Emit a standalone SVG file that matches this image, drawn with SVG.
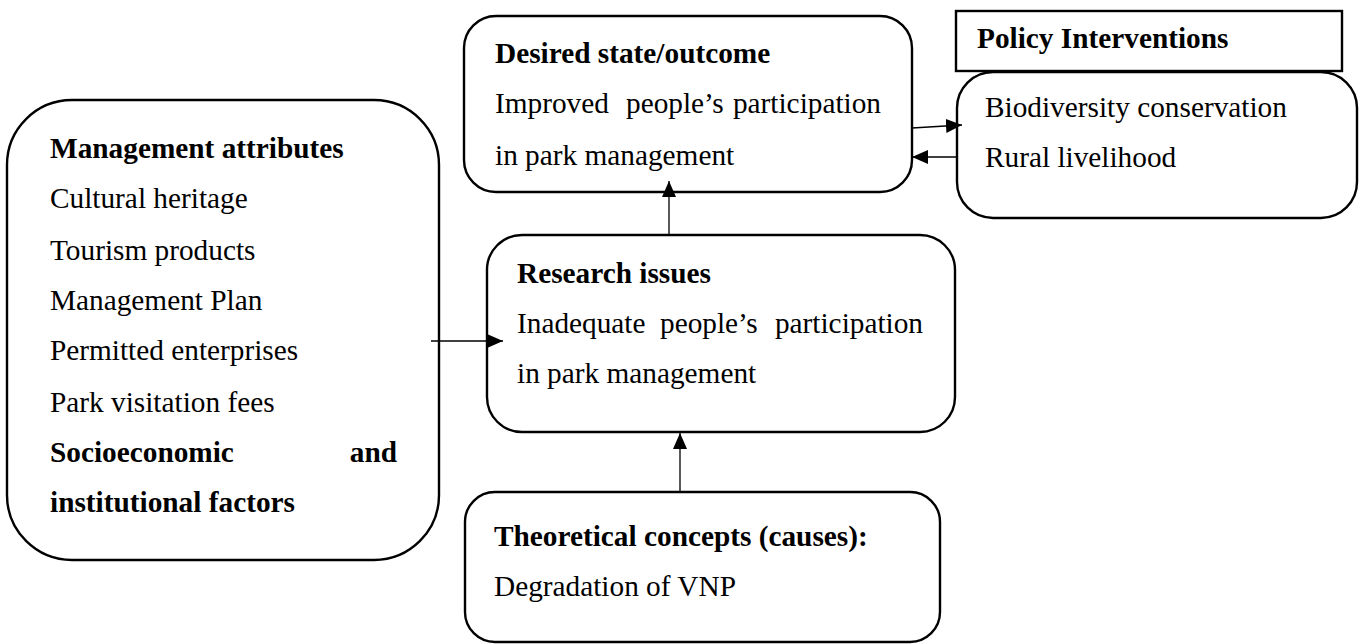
<svg xmlns="http://www.w3.org/2000/svg" width="1360" height="644" viewBox="0 0 1360 644">
<style>
.box{fill:#fff;stroke:#000;stroke-width:2.4}
.t{font-family:"Liberation Serif","Times New Roman",serif;font-size:29.3px;fill:#000}
.b{font-weight:bold}
.c{fill:none;stroke:#000;stroke-width:1.3}
</style>
<defs>
<marker id="ah" markerUnits="userSpaceOnUse" markerWidth="18" markerHeight="14" refX="16" refY="7" orient="auto">
<path d="M0,0 L16,7 L0,14 Z" fill="#000"/>
</marker>
</defs>
<rect width="1360" height="644" fill="#fff"/>
<g id="management">
<rect class="box" x="7" y="100" width="432" height="460" rx="65" ry="65"/>
<text class="t b" x="50" y="158">Management attributes</text>
<text class="t" x="50" y="208">Cultural heritage</text>
<text class="t" x="50" y="260">Tourism products</text>
<text class="t" x="50" y="310">Management Plan</text>
<text class="t" x="50" y="360">Permitted enterprises</text>
<text class="t" x="50" y="412">Park visitation fees</text>
<text class="t b" x="50" y="462">Socioeconomic</text>
<text class="t b" x="397" y="462" text-anchor="end">and</text>
<text class="t b" x="50" y="512">institutional factors</text>
</g>
<g id="desired">
<rect class="box" x="464" y="16" width="448" height="176" rx="32" ry="32"/>
<text class="t b" x="495" y="63">Desired state/outcome</text>
<text class="t" x="495" y="113">Improved</text>
<text class="t" x="626" y="113">people’s</text>
<text class="t" x="881" y="113" text-anchor="end">participation</text>
<text class="t" x="495" y="165">in park management</text>
</g>
<g id="policy">
<rect class="box" x="956" y="11" width="386" height="60"/>
<text class="t b" x="977" y="48">Policy Interventions</text>
<rect class="box" x="957" y="72" width="400" height="146" rx="36" ry="36"/>
<text class="t" x="985" y="117">Biodiversity conservation</text>
<text class="t" x="985" y="167">Rural livelihood</text>
</g>
<g id="research">
<rect class="box" x="487" y="235" width="468" height="197" rx="35" ry="35"/>
<text class="t b" x="517" y="283">Research issues</text>
<text class="t" x="517" y="333">Inadequate</text>
<text class="t" x="660" y="333">people’s</text>
<text class="t" x="923" y="333" text-anchor="end">participation</text>
<text class="t" x="517" y="383">in park management</text>
</g>
<g id="theory">
<rect class="box" x="465" y="492" width="475" height="150" rx="30" ry="30"/>
<text class="t b" x="494" y="546">Theoretical concepts (causes):</text>
<text class="t" x="494" y="596">Degradation of VNP</text>
</g>
<g id="connectors">
<line class="c" x1="431" y1="341" x2="503" y2="341" marker-end="url(#ah)"/>
<line class="c" x1="669" y1="236" x2="669" y2="181" marker-end="url(#ah)"/>
<line class="c" x1="680" y1="492" x2="680" y2="433" marker-end="url(#ah)"/>
<line class="c" x1="912" y1="128" x2="962" y2="125" marker-end="url(#ah)"/>
<line class="c" x1="957" y1="157" x2="912" y2="157" marker-end="url(#ah)"/>
</g>
</svg>
